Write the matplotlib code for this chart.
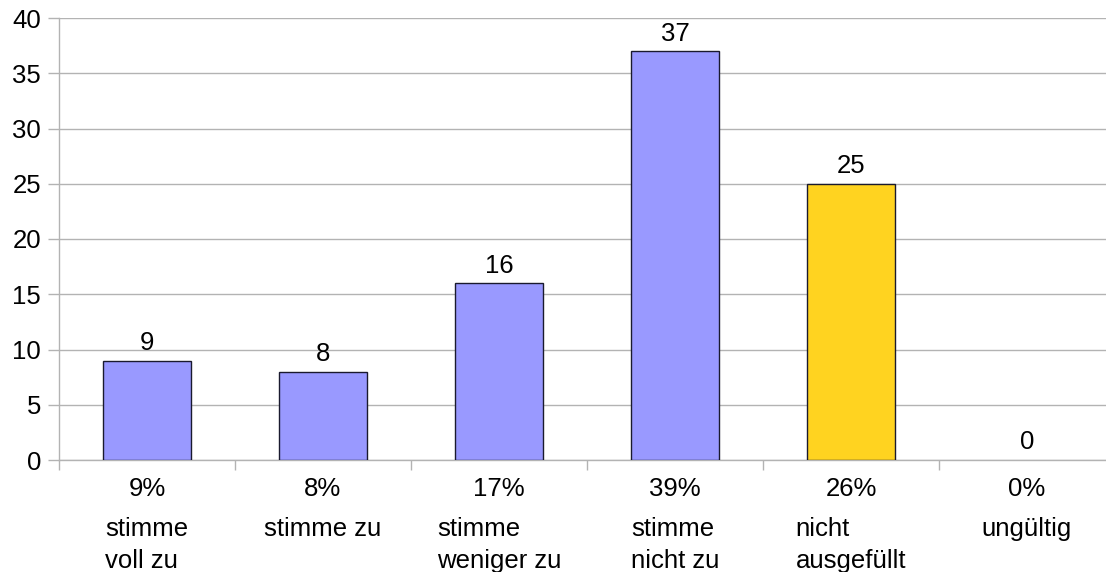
import matplotlib.pyplot as plt
import matplotlib.transforms as mtransforms
import numpy as np

categories = [
    "stimme\nvoll zu",
    "stimme zu",
    "stimme\nweniger zu",
    "stimme\nnicht zu",
    "nicht\nausgefüllt",
    "ungültig",
]
counts = [9, 8, 16, 37, 25, 0]
bar_colors = ["#9999ff", "#9999ff", "#9999ff", "#9999ff", "#ffd320", "#9999ff"]

plt.rcParams["font.family"] = ["Liberation Sans", "DejaVu Sans"]
plt.rcParams["font.size"] = 18.5

fig = plt.figure(figsize=(11.06, 5.72), dpi=100)
W, H = 1106, 572
ax = fig.add_axes([59 / W, (H - 460) / H, 1056 / W, 442 / H])

x = np.arange(len(counts))
# empty categories get no outline
edge_widths = [1.0 if v > 0 else 0 for v in counts]
ax.bar(x, counts, width=0.5, color=bar_colors, edgecolor="#1a1a2e",
       linewidth=edge_widths, zorder=3)

for xi, v in zip(x, counts):
    ax.annotate(str(v), (xi, v), xytext=(0, 4), textcoords="offset points",
                ha="center", va="bottom", zorder=4)

ax.set_xlim(-0.5, len(counts) - 0.5)
ax.set_ylim(0, 40)
ax.set_yticks(np.arange(0, 41, 5))
ax.yaxis.grid(True, color="#b3b3b3", linewidth=1.0, zorder=0)
ax.set_axisbelow(True)

for side in ("top", "right"):
    ax.spines[side].set_visible(False)
for side in ("left", "bottom"):
    ax.spines[side].set_color("#b3b3b3")
    ax.spines[side].set_linewidth(1.0)

ax.tick_params(axis="y", length=8, width=1.0, color="#b3b3b3", pad=5)

# percentages as major tick labels, category boundaries as minor ticks
total = sum(counts)
pct = [f"{round(100 * v / total)}%" for v in counts]
ax.set_xticks(x, labels=pct)
ax.set_xticks(np.arange(-0.5, len(counts) - 0.5, 1.0), minor=True)
ax.tick_params(axis="x", which="major", length=0, pad=12)
ax.tick_params(axis="x", which="minor", length=7.5, width=1.0, color="#b3b3b3")

trans = mtransforms.blended_transform_factory(ax.transData, ax.transAxes)
for xi, name in zip(x, categories):
    ax.text(xi, -0.13, name, transform=trans, ha="center", va="top",
            multialignment="left", linespacing=1.42)

fig.savefig("out.png", dpi=100)
